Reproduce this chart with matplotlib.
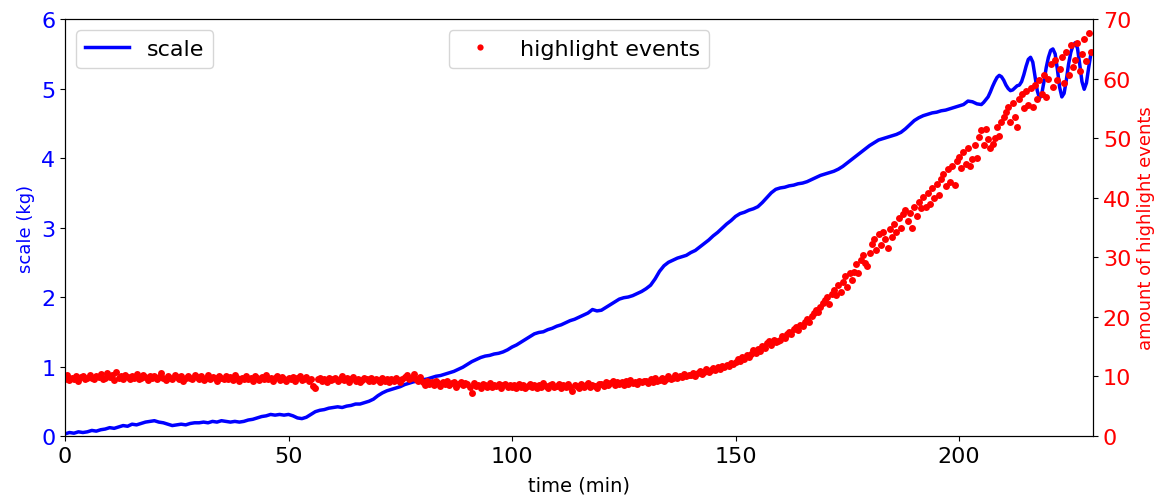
import numpy as np
import matplotlib
matplotlib.use("Agg")
import matplotlib.pyplot as plt

# ---------------- data ----------------
# scale reading (kg), one value per minute from t=0 to t=204
scale_kg_coarse = [
    0.03, 0.05, 0.04, 0.06, 0.05, 0.06, 0.08, 0.07, 0.09, 0.10,
    0.12, 0.11, 0.13, 0.15, 0.14, 0.17, 0.16, 0.18, 0.20, 0.21,
    0.22, 0.20, 0.19, 0.17, 0.15, 0.16, 0.17, 0.16, 0.18, 0.19,
    0.19, 0.20, 0.19, 0.21, 0.20, 0.22, 0.21, 0.20, 0.21, 0.20,
    0.21, 0.23, 0.24, 0.26, 0.28, 0.29, 0.31, 0.30, 0.31, 0.30,
    0.31, 0.29, 0.26, 0.25, 0.27, 0.31, 0.35, 0.37, 0.38, 0.40,
    0.41, 0.42, 0.41, 0.43, 0.44, 0.46, 0.46, 0.48, 0.50, 0.53,
    0.58, 0.62, 0.65, 0.67, 0.69, 0.71, 0.74, 0.76, 0.78, 0.79,
    0.81, 0.82, 0.84, 0.86, 0.87, 0.89, 0.91, 0.93, 0.96, 0.99,
    1.03, 1.07, 1.10, 1.13, 1.15, 1.16, 1.18, 1.19, 1.21, 1.24,
    1.28, 1.31, 1.35, 1.39, 1.43, 1.47, 1.49, 1.50, 1.53, 1.55,
    1.58, 1.60, 1.63, 1.66, 1.68, 1.71, 1.74, 1.77, 1.82, 1.80,
    1.81, 1.85, 1.89, 1.93, 1.97, 1.99, 2.00, 2.02, 2.05, 2.08,
    2.12, 2.17, 2.26, 2.37, 2.45, 2.50, 2.53, 2.56, 2.58, 2.60,
    2.64, 2.67, 2.72, 2.77, 2.82, 2.88, 2.93, 2.99, 3.05, 3.10,
    3.16, 3.20, 3.22, 3.25, 3.27, 3.30, 3.36, 3.43, 3.50, 3.55,
    3.57, 3.58, 3.60, 3.61, 3.63, 3.64, 3.66, 3.69, 3.72, 3.75,
    3.77, 3.79, 3.81, 3.84, 3.88, 3.93, 3.98, 4.03, 4.08, 4.13,
    4.18, 4.22, 4.26, 4.28, 4.30, 4.32, 4.34, 4.37, 4.42, 4.48,
    4.54, 4.58, 4.61, 4.63, 4.65, 4.66, 4.68, 4.69, 4.71, 4.73,
    4.75, 4.77, 4.82, 4.81, 4.78,
]
# scale reading (kg), every half minute from t=205 to t=229.5 (oscillating end)
scale_kg_fine = [
    4.77, 4.80, 4.84, 4.88, 4.95, 5.03, 5.10, 5.16, 5.19, 5.17,
    5.12, 5.05, 5.00, 4.97, 4.98, 5.01, 5.04, 5.05, 5.10, 5.20,
    5.32, 5.42, 5.45, 5.38, 5.18, 4.97, 4.86, 4.92, 5.10, 5.30,
    5.45, 5.55, 5.57, 5.50, 5.28, 5.02, 4.88, 4.93, 5.12, 5.35,
    5.52, 5.62, 5.66, 5.58, 5.35, 5.10, 4.99, 5.08, 5.30, 5.50,
]

# highlight events, every half minute from t=0 to t=229.5 (one row = 10 min)
highlight_events = [
    9.5, 10.2, 9.4, 9.8, 9.6, 10.0, 9.3, 9.9, 10.1, 9.6, 9.8, 10.3, 9.7, 9.5, 10.0, 9.9, 10.4, 9.6, 9.8, 10.6,
    9.9, 10.2, 9.4, 10.8, 9.7, 10.1, 9.5, 10.3, 9.9, 9.6, 10.0, 9.8, 10.4, 9.5, 9.7, 10.2, 9.9, 9.4, 10.1, 9.8,
    10.0, 9.6, 9.9, 10.5, 9.7, 9.4, 10.1, 9.8, 9.5, 10.2, 9.9, 9.6, 10.0, 9.3, 9.8, 10.1, 9.7, 9.5, 10.3, 9.9,
    9.6, 10.0, 9.4, 9.8, 10.2, 9.5, 9.9, 9.7, 9.2, 10.1, 9.8, 9.5, 10.0, 9.6, 9.9, 9.4, 10.2, 9.7, 9.3, 9.8,
    9.6, 10.1, 9.5, 9.8, 9.3, 10.0, 9.7, 9.4, 9.9, 9.6, 10.2, 9.5, 9.8, 9.2, 9.7, 10.1, 9.4, 9.9, 9.6, 9.3,
    9.8, 9.5, 9.9, 9.3, 9.7, 10.0, 9.4, 9.6, 9.9, 9.2, 9.6, 8.4, 8.1, 9.5, 9.8, 9.3, 9.6, 9.0, 9.7, 9.4,
    9.5, 9.8, 9.2, 9.6, 10.0, 9.4, 9.7, 9.1, 9.5, 9.9, 9.3, 9.6, 9.0, 9.4, 9.8, 9.5, 9.2, 9.7, 9.3, 9.6,
    9.4, 9.1, 9.7, 9.3, 9.6, 9.0, 9.5, 9.2, 9.8, 9.4, 9.1, 9.6, 9.9, 10.2, 9.5, 9.8, 10.4, 9.6, 9.2, 9.9,
    9.0, 8.6, 9.3, 8.8, 9.1, 8.5, 9.2, 8.9, 8.4, 9.0, 8.7, 9.3, 8.6, 8.9, 9.1, 8.3, 8.8, 9.0, 8.5, 8.9,
    8.7, 8.2, 7.2, 8.9, 8.4, 8.6, 8.1, 8.8, 8.5, 8.3, 8.9, 8.2, 8.6, 8.4, 8.7, 8.0, 8.5, 8.8, 8.3, 8.6,
    8.2, 8.5, 8.0, 8.7, 8.3, 8.6, 8.1, 8.4, 8.8, 8.2, 8.5, 8.0, 8.6, 8.3, 8.9, 8.4, 8.1, 8.5, 8.7, 8.2,
    8.4, 8.7, 8.1, 8.5, 8.3, 8.8, 8.2, 7.6, 8.6, 8.4, 8.1, 8.7, 8.3, 8.5, 8.9, 8.2, 8.6, 8.4, 8.0, 8.7,
    8.8, 8.4, 9.0, 8.6, 8.9, 9.3, 8.5, 9.1, 8.7, 9.0, 8.6, 9.2, 8.8, 9.4, 8.9, 9.1, 8.7, 9.3, 9.0, 9.2,
    9.3, 8.9, 9.5, 9.1, 9.7, 9.2, 9.4, 9.8, 9.3, 9.6, 10.0, 9.5, 9.8, 10.2, 9.7, 10.1, 9.9, 10.4, 10.0, 10.3,
    10.2, 10.6, 10.1, 10.5, 10.9, 10.4, 10.8, 11.2, 10.7, 11.0, 11.4, 11.1, 11.6, 11.3, 11.8, 11.5, 12.0, 11.7, 12.3, 12.1,
    12.4, 12.9, 12.6, 13.2, 13.0, 13.6, 13.3, 13.8, 14.4, 13.9, 14.6, 14.3, 15.1, 14.8, 15.6, 15.9, 15.3, 16.1, 15.7, 16.0,
    16.2, 16.8, 16.4, 17.1, 17.5, 17.2, 17.9, 18.3, 17.8, 18.6, 18.4, 19.1, 19.6, 19.2, 20.1, 20.6, 21.2, 20.8, 21.7, 22.4,
    22.8, 23.4, 22.1, 23.9, 24.5, 23.6, 25.3, 24.2, 25.8, 26.9, 25.0, 27.3, 26.2, 27.6, 28.8, 27.4, 29.6, 30.4, 29.0, 28.6,
    30.8, 32.3, 33.0, 31.3, 33.9, 32.0, 34.2, 33.0, 31.5, 34.8, 33.4, 35.6, 34.3, 36.6, 35.0, 37.2, 37.9, 36.1, 37.5, 35.0,
    38.4, 37.0, 39.3, 38.2, 40.2, 38.5, 40.8, 39.0, 41.6, 40.0, 42.3, 40.4, 43.2, 44.0, 41.9, 44.8, 42.6, 45.4, 42.1, 46.2,
    46.9, 45.0, 47.7, 45.6, 48.3, 45.4, 46.5, 48.9, 46.6, 50.2, 51.4, 48.8, 51.6, 49.8, 48.4, 49.1, 50.0, 51.9, 50.3, 52.8,
    53.5, 54.4, 55.3, 52.8, 55.9, 53.6, 51.9, 56.5, 57.4, 55.0, 58.0, 55.6, 58.5, 55.3, 58.9, 56.5, 59.8, 57.4, 60.6, 57.0,
    59.9, 62.4, 58.6, 63.1, 59.8, 61.6, 63.6, 59.2, 64.5, 60.6, 65.6, 61.9, 63.1, 65.9, 61.2, 64.1, 66.6, 63.0, 67.6, 64.5,
]

scale_time = np.concatenate([np.arange(0, 205, 1.0), np.arange(205, 230, 0.5)])
scale_kg = scale_kg_coarse + scale_kg_fine
event_time = np.arange(0, 230, 0.5)


def main() -> None:
    fig = plt.figure(figsize=(11.69, 5.02), dpi=100)
    ax1 = fig.add_axes([0.0556, 0.1295, 0.8795, 0.8305])
    ax2 = ax1.twinx()

    # blue scale curve (left axis)
    ln1, = ax1.plot(scale_time, scale_kg, color="blue", lw=2.5, label="scale")
    ax1.set_xlim(0, 230)
    ax1.set_ylim(0, 6)
    ax1.set_xlabel("time (min)", fontsize=14, labelpad=7)
    ax1.set_ylabel("scale (kg)", color="blue", fontsize=13)
    ax1.tick_params(axis="both", labelsize=16)
    ax1.tick_params(axis="y", labelcolor="blue")

    # red dots (right axis)
    ln2, = ax2.plot(event_time, highlight_events, "o", color="red",
                    ms=5, mew=0, label="highlight events")
    ax2.set_ylim(0, 70)
    ax2.set_ylabel("amount of highlight events", color="red", fontsize=13)
    ax2.tick_params(axis="y", labelsize=16, labelcolor="red")

    # two separate legends, like the original
    ax2.legend(handles=[ln1], loc="upper left", fontsize=16)
    ax2.add_artist(ax2.get_legend())
    ax2.legend(handles=[ln2], loc="upper center", fontsize=16,
               numpoints=1, markerscale=0.9)

    fig.savefig("out.png", dpi=100)


if __name__ == "__main__":
    main()
